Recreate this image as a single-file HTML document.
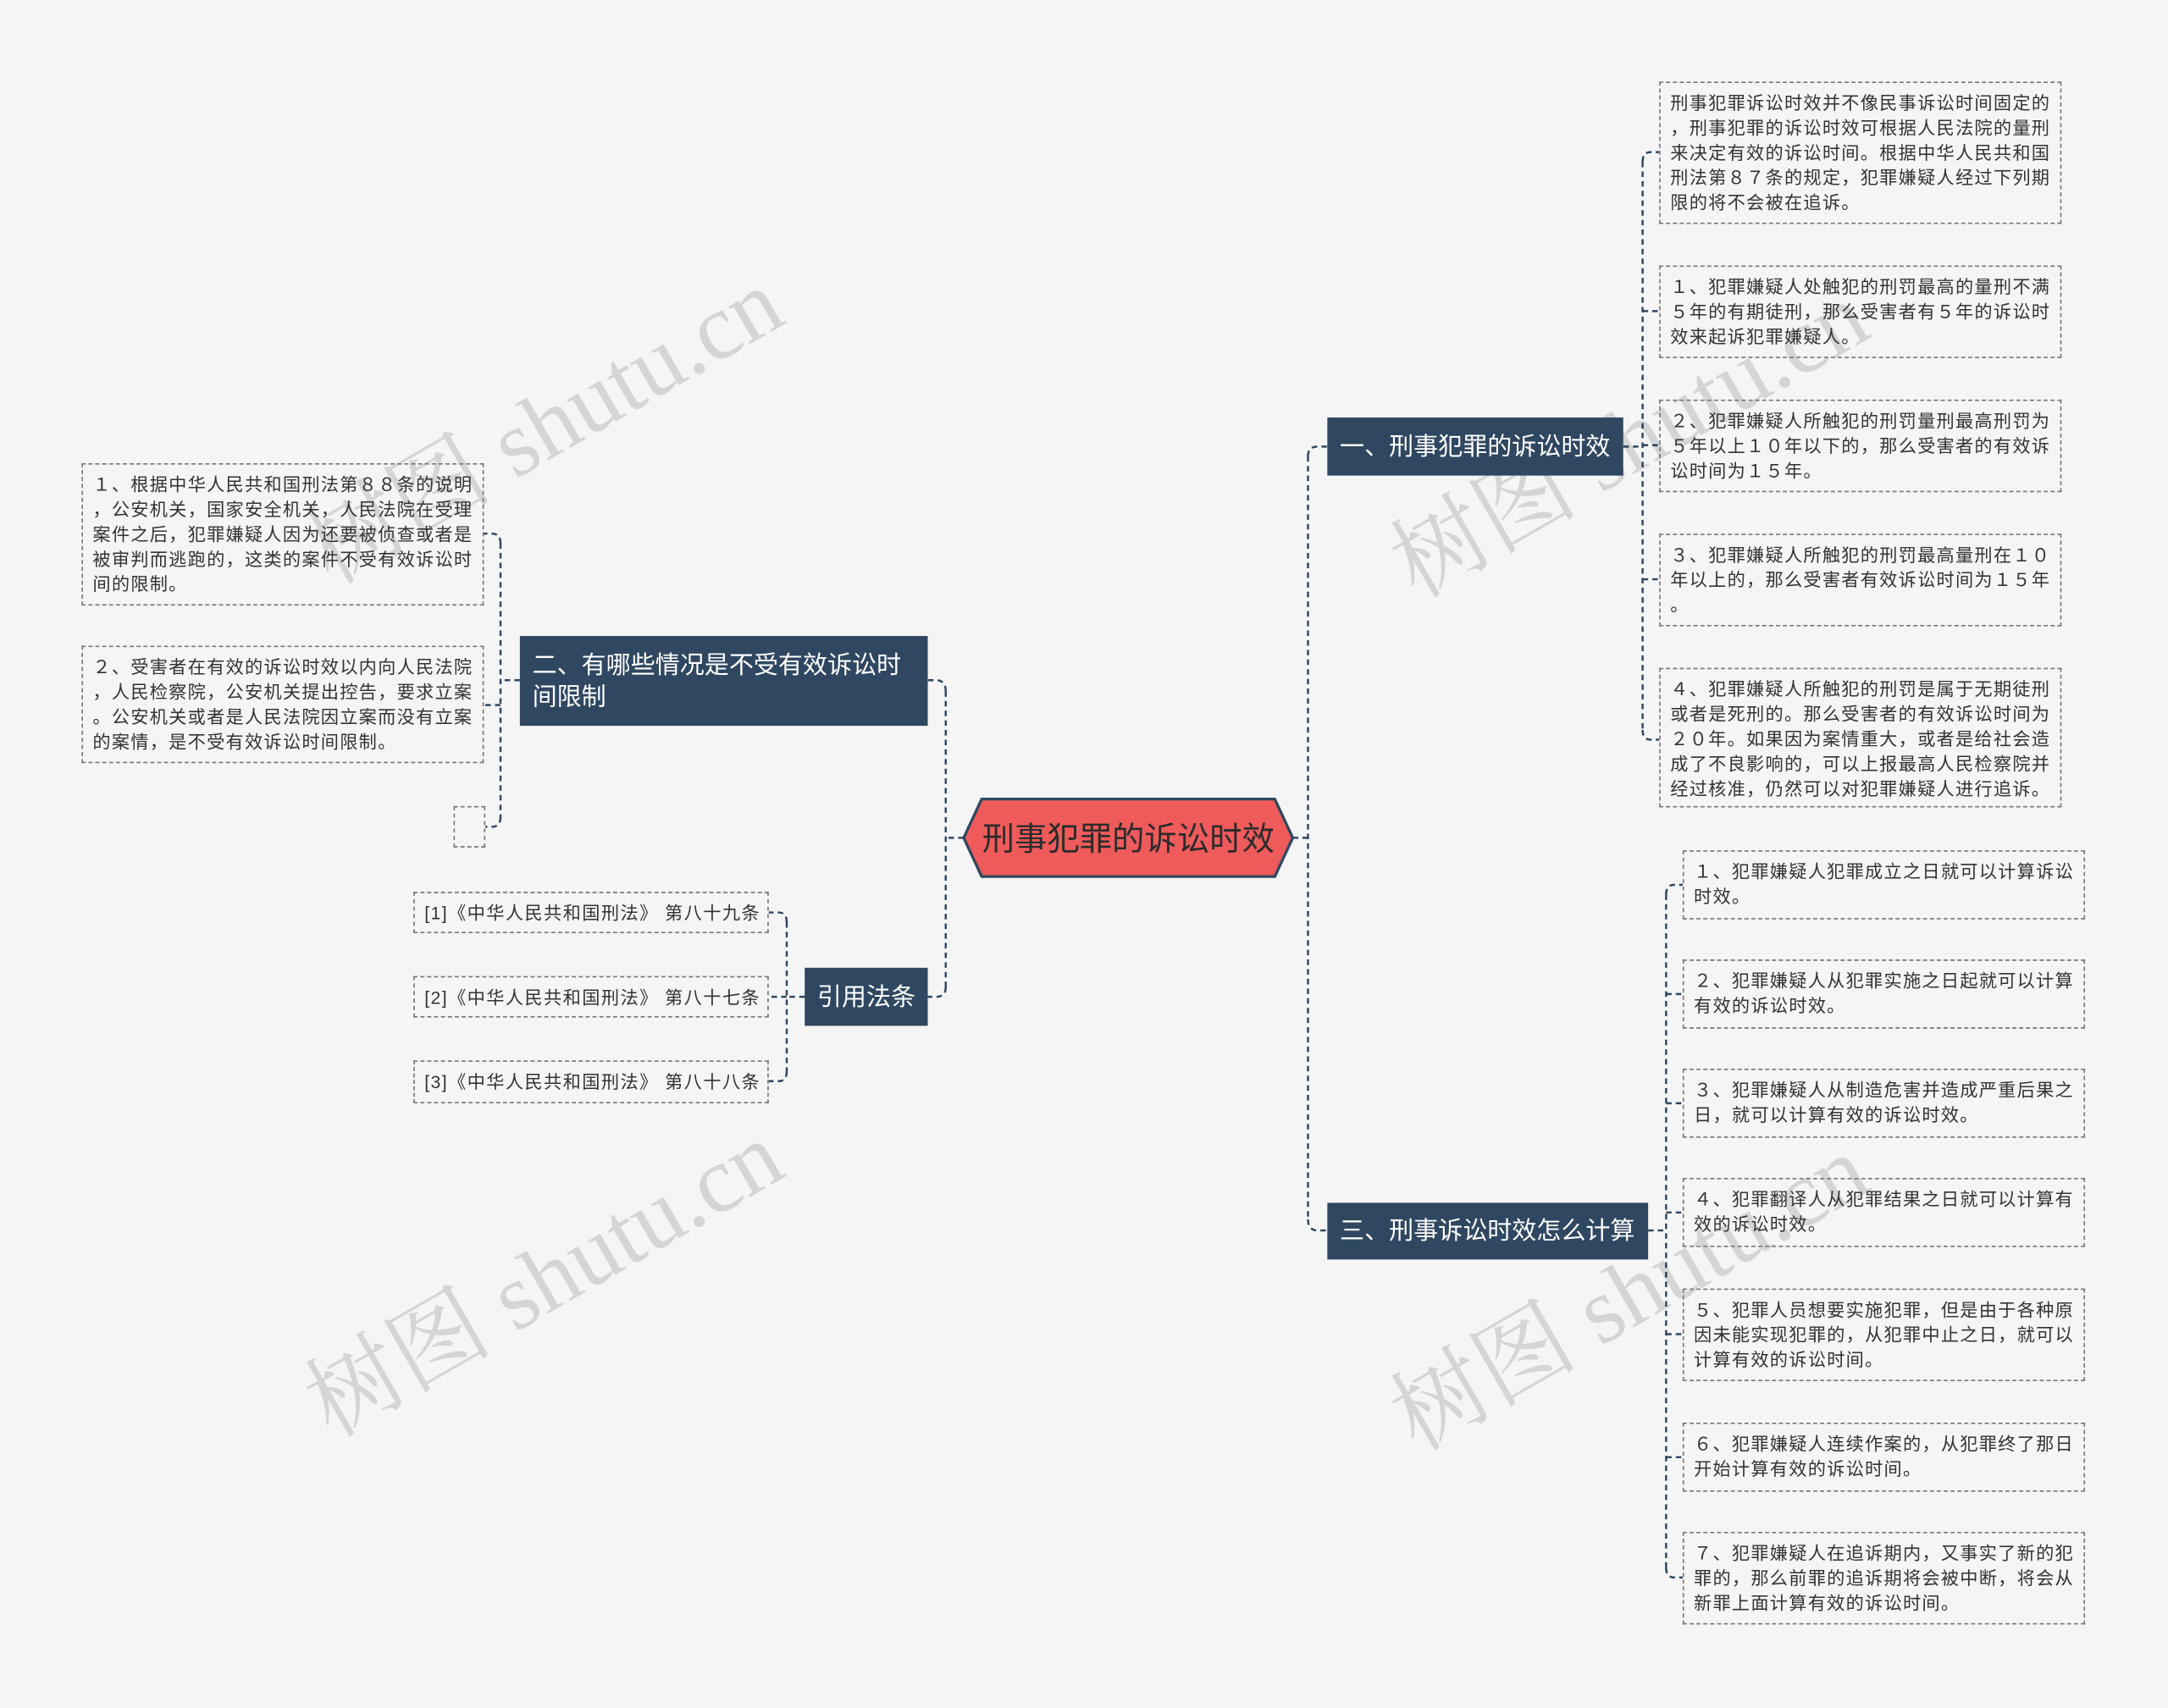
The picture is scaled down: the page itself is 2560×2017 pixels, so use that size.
<!DOCTYPE html>
<html><head><meta charset="utf-8"><style>
html,body{margin:0;padding:0;background:#f5f5f5;}
body{width:2560px;height:2017px;overflow:hidden;}
#c{position:absolute;left:0;top:0;width:1568px;height:1235px;transform:scale(1.632653);transform-origin:0 0;font-family:"Liberation Sans","Noto Sans CJK SC",sans-serif;}
.leaf{position:absolute;box-sizing:border-box;border:1px dashed #777;font-size:13px;letter-spacing:0.75px;line-height:18px;color:#333;padding:6px 4px 0 7px;white-space:nowrap;}
.br{position:absolute;box-sizing:border-box;background:#2f4760;color:#fff;font-size:17.8px;line-height:23px;padding:0 9px;display:flex;align-items:center;white-space:nowrap;}
.wm{position:absolute;font-size:68px;color:rgba(0,0,0,0.13);transform:rotate(-30deg);white-space:nowrap;font-family:"Liberation Serif","Noto Serif CJK SC",serif;}
svg{position:absolute;left:0;top:0;}
</style></head><body><div id="c">
<svg width="1568" height="1235" viewBox="0 0 1568 1235">
<g fill="none" stroke="#2f4760" stroke-width="1.5" stroke-dasharray="4,3">
<path d="M935 606 H946 M946 330 V882 M946 330 Q946 323 953 323 H960 M946 882 Q946 890 953 890 H960"/>
<path d="M697 606 H684 M684 500 V714 M684 500 Q684 492 677 492 H671 M684 714 Q684 721 677 721 H671"/>
<path d="M1174 323 H1188 M1188 117 V528 M1188 117 Q1188 110 1194 110 H1200 M1188 225 H1200 M1188 322 H1200 M1188 419 H1200 M1188 528 Q1188 535 1194 535 H1200"/>
<path d="M1192 890 H1205 M1205 647 V1134 M1205 647 Q1205 640 1211 640 H1217 M1205 719 H1217 M1205 798 H1217 M1205 877 H1217 M1205 965 H1217 M1205 1054 H1217 M1205 1134 Q1205 1141 1211 1141 H1217"/>
<path d="M376 492 H362 M362 393 V591 M362 393 Q362 386 356 386 H350 M362 510 H350 M362 591 Q362 598 356 598 H351"/>
<path d="M582 721 H569 M569 667 V775 M569 667 Q569 660 563 660 H556 M569 721 H556 M569 775 Q569 782 563 782 H556"/>
</g>
<polygon points="697,606 710,578 922,578 935,606 922,634 710,634" fill="#ef5a5a" stroke="#2f4760" stroke-width="2"/>
<text x="816" y="615" text-anchor="middle" font-size="23.5" fill="#2b2b2b" font-family="Liberation Sans, Noto Sans CJK SC, sans-serif">刑事犯罪的诉讼时效</text>
</svg>
<div class="wm" style="left:200px;top:255px;">树图 shutu.cn</div>
<div class="wm" style="left:200px;top:872px;">树图 shutu.cn</div>
<div class="wm" style="left:985px;top:265px;">树图 shutu.cn</div>
<div class="wm" style="left:985px;top:882px;">树图 shutu.cn</div>

<div class="br" style="left:960px;top:302px;width:214px;height:42px;">一、刑事犯罪的诉讼时效</div>
<div class="br" style="left:960px;top:870px;width:232px;height:41px;">三、刑事诉讼时效怎么计算</div>
<div class="br" style="left:376px;top:460px;width:295px;height:65px;">二、有哪些情况是不受有效诉讼时<br>间限制</div>
<div class="br" style="left:582px;top:700px;width:89px;height:42px;">引用法条</div>

<div class="leaf" style="left:1200px;top:59px;width:291px;height:103px;">刑事犯罪诉讼时效并不像民事诉讼时间固定的<br>，刑事犯罪的诉讼时效可根据人民法院的量刑<br>来决定有效的诉讼时间。根据中华人民共和国<br>刑法第８７条的规定，犯罪嫌疑人经过下列期<br>限的将不会被在追诉。</div>
<div class="leaf" style="left:1200px;top:192px;width:291px;height:67px;">１、犯罪嫌疑人处触犯的刑罚最高的量刑不满<br>５年的有期徒刑，那么受害者有５年的诉讼时<br>效来起诉犯罪嫌疑人。</div>
<div class="leaf" style="left:1200px;top:289px;width:291px;height:67px;">２、犯罪嫌疑人所触犯的刑罚量刑最高刑罚为<br>５年以上１０年以下的，那么受害者的有效诉<br>讼时间为１５年。</div>
<div class="leaf" style="left:1200px;top:386px;width:291px;height:67px;">３、犯罪嫌疑人所触犯的刑罚最高量刑在１０<br>年以上的，那么受害者有效诉讼时间为１５年<br>。</div>
<div class="leaf" style="left:1200px;top:483px;width:291px;height:101px;">４、犯罪嫌疑人所触犯的刑罚是属于无期徒刑<br>或者是死刑的。那么受害者的有效诉讼时间为<br>２０年。如果因为案情重大，或者是给社会造<br>成了不良影响的，可以上报最高人民检察院并<br>经过核准，仍然可以对犯罪嫌疑人进行追诉。</div>

<div class="leaf" style="left:1217px;top:615px;width:291px;height:50px;">１、犯罪嫌疑人犯罪成立之日就可以计算诉讼<br>时效。</div>
<div class="leaf" style="left:1217px;top:694px;width:291px;height:50px;">２、犯罪嫌疑人从犯罪实施之日起就可以计算<br>有效的诉讼时效。</div>
<div class="leaf" style="left:1217px;top:773px;width:291px;height:50px;">３、犯罪嫌疑人从制造危害并造成严重后果之<br>日，就可以计算有效的诉讼时效。</div>
<div class="leaf" style="left:1217px;top:852px;width:291px;height:50px;">４、犯罪翻译人从犯罪结果之日就可以计算有<br>效的诉讼时效。</div>
<div class="leaf" style="left:1217px;top:932px;width:291px;height:67px;">５、犯罪人员想要实施犯罪，但是由于各种原<br>因未能实现犯罪的，从犯罪中止之日，就可以<br>计算有效的诉讼时间。</div>
<div class="leaf" style="left:1217px;top:1029px;width:291px;height:50px;">６、犯罪嫌疑人连续作案的，从犯罪终了那日<br>开始计算有效的诉讼时间。</div>
<div class="leaf" style="left:1217px;top:1108px;width:291px;height:67px;">７、犯罪嫌疑人在追诉期内，又事实了新的犯<br>罪的，那么前罪的追诉期将会被中断，将会从<br>新罪上面计算有效的诉讼时间。</div>

<div class="leaf" style="left:59px;top:335px;width:291px;height:103px;">１、根据中华人民共和国刑法第８８条的说明<br>，公安机关，国家安全机关，人民法院在受理<br>案件之后，犯罪嫌疑人因为还要被侦查或者是<br>被审判而逃跑的，这类的案件不受有效诉讼时<br>间的限制。</div>
<div class="leaf" style="left:59px;top:467px;width:291px;height:85px;">２、受害者在有效的诉讼时效以内向人民法院<br>，人民检察院，公安机关提出控告，要求立案<br>。公安机关或者是人民法院因立案而没有立案<br>的案情，是不受有效诉讼时间限制。</div>
<div class="leaf" style="left:328px;top:583px;width:23px;height:30px;"></div>

<div class="leaf" style="left:299px;top:645px;width:257px;height:30px;letter-spacing:0.85px;">[1]《中华人民共和国刑法》 第八十九条</div>
<div class="leaf" style="left:299px;top:706px;width:257px;height:30px;letter-spacing:0.85px;">[2]《中华人民共和国刑法》 第八十七条</div>
<div class="leaf" style="left:299px;top:767px;width:257px;height:31px;letter-spacing:0.85px;">[3]《中华人民共和国刑法》 第八十八条</div>
</div></body></html>
